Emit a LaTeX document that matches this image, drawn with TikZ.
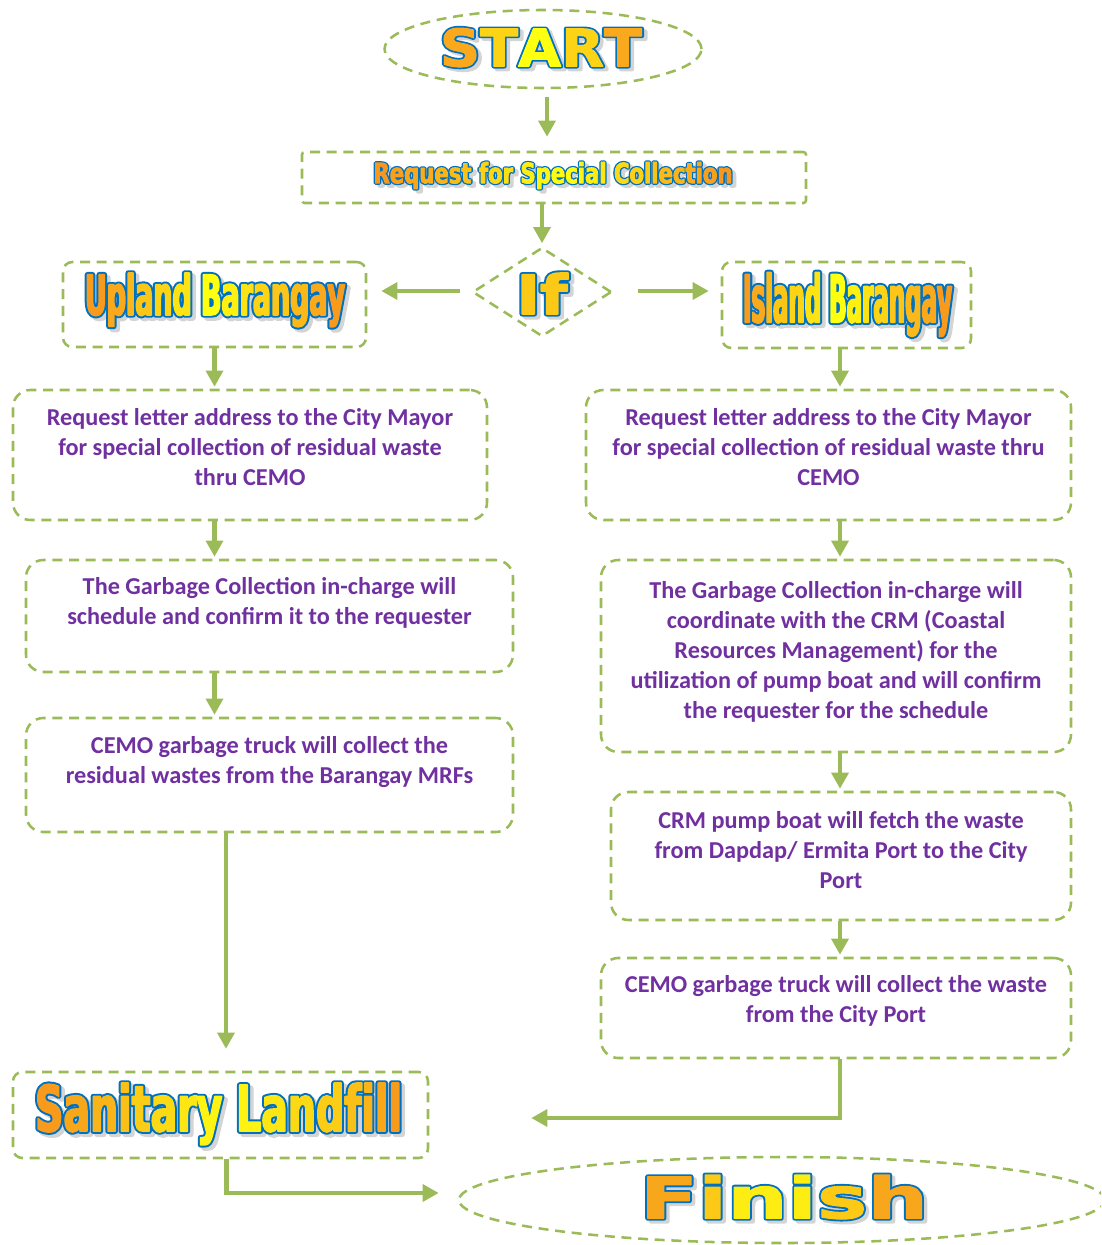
\documentclass[tikz,border=0pt]{standalone}
\usepackage{fontspec}
\setmainfont{Carlito}
\newfontfamily\artcond{DejaVu Sans Condensed}
\newfontfamily\artwide{DejaVu Sans}
\usetikzlibrary{shapes.geometric, arrows.meta, calc, fit}

\definecolor{flowgreen}{HTML}{9BBB59}
\definecolor{textpurple}{HTML}{7030A0}

% Title letters in three passes: a soft grey shadow, a wide blue stroke,
% then the letters filled (slightly emboldened) orange -> yellow -> orange.
\ExplSyntaxOn
\int_new:N \l__art_i_int
\int_new:N \l__art_n_int
\fp_new:N \l__art_t_fp
\tl_new:N \l__art_col_tl
% #1 pass: 0 shadow, 1 outline, 2 fill; #2 text
\cs_new_protected:Npn \__art_map:nn #1 #2
  {
    \int_set:Nn \l__art_n_int { \tl_count:n {#2} }
    \int_zero:N \l__art_i_int
    \tl_map_inline:nn {#2}
      {
        \int_incr:N \l__art_i_int
        \fp_set:Nn \l__art_t_fp { abs( (2*\l__art_i_int-1)/\l__art_n_int - 1 ) }
        \int_case:nn {#1}
          {
            {0} { \tl_set:Nn \l__art_col_tl { 0.83~0.83~0.83 } }
            {1} { \tl_set:Nn \l__art_col_tl { 0~0.439~0.753 } }
            {2}
              {
                \tl_set:Nx \l__art_col_tl
                  {
                    \fp_eval:n { round(1 + (0.969-1)*\l__art_t_fp, 3) }~
                    \fp_eval:n { round(1 + (0.580-1)*\l__art_t_fp, 3) }~
                    \fp_eval:n { round(0.063 + (0.114-0.063)*\l__art_t_fp, 3) }
                  }
              }
          }
        \special{pdf:literal~direct~\l__art_col_tl~rg~\l__art_col_tl~RG}
        ##1
      }
  }
% #1 fill stroke width, #2 outline stroke width, #3 text
\NewDocumentCommand \artletters { m m m }
  {
    \rlap
      {
        \raisebox{-2.4pt}
          {
            \kern 2.6pt
            \special{pdf:literal~direct~q~2~Tr~#2~w~1~j}
            \__art_map:nn {0} {#3}
            \special{pdf:literal~direct~Q}
          }
      }
    \rlap
      {
        \special{pdf:literal~direct~q~2~Tr~#2~w~1~j}
        \__art_map:nn {1} {#3}
        \special{pdf:literal~direct~Q}
      }
    \special{pdf:literal~direct~q~2~Tr~#1~w~1~j}
    \__art_map:nn {2} {#3}
    \special{pdf:literal~direct~Q}
  }
\ExplSyntaxOff

\newdimen\upx \upx=0.75pt
% #1 name, #2,#3 centre, #4,#5 width and total height (px), #6 font size,
% #7 font with its horizontal stretch, #8 {fill width}{outline width}, #9 text
\newcommand\wordart[9]{%
  \node[inner sep=0] (#1) at (#2,#3)
    {\resizebox*{#4\upx}{#5\upx}{\fontsize{#6}{#6}\selectfont#7\artletters#8{#9}}};%
}

\tikzset{
  box/.style={draw=flowgreen, line width=1.9pt, dash pattern=on 7.5pt off 5pt, inner sep=0},
  rbox/.style={box, rounded corners=13pt},
  sbox/.style={box, rounded corners=7pt},
  arr/.style={draw=flowgreen, line width=3.6pt, -{Triangle[length=12pt,width=12.5pt]}},
  txt/.style={font=\bfseries\fontsize{18.2}{22.5}\selectfont, text=textpurple, align=center, inner sep=0},
}

\begin{document}
\begin{tikzpicture}[x=0.75pt, y=-0.75pt]
\useasboundingbox (0,0) rectangle (1101,1245);
\clip (0,0) rectangle (1101,1245);

% outlines of the steps
\node[box, ellipse, minimum width=237.75pt, minimum height=58.5pt] (start) at (543,49) {};
\node[box, rounded corners=2pt, fit={(302,152)(806,203)}] (req) {};
\node[box, diamond, minimum width=104.25pt, minimum height=66.75pt] (if) at (542,292) {};
\node[sbox, fit={(63,262)(366,347)}] (up) {};
\node[sbox, fit={(722,262)(971,348)}] (isl) {};
\node[rbox, fit={(13,390)(487,520)}] (l1) {};
\node[rbox, fit={(26,560)(513,672)}] (l2) {};
\node[rbox, fit={(26,718)(513,832)}] (l3) {};
\node[rbox, fit={(586,390)(1071,520)}] (r1) {};
\node[rbox, fit={(601,560)(1071,752)}] (r2) {};
\node[rbox, fit={(611,792)(1071,920)}] (r3) {};
\node[rbox, fit={(601,958)(1071,1058)}] (r4) {};
\node[sbox, fit={(13,1072)(428,1158)}] (san) {};
\node[box, ellipse, minimum width=484.5pt, minimum height=64.5pt] (fin) at (782,1200) {};

% title lettering
\wordart{startt}{541}{49}{202}{42}{43}{\artwide\bfseries\addfontfeatures{FakeStretch=0.97}}{{0.8}{3.6}}{START}
\wordart{reqt}{553}{177}{359}{30}{22.5}{\artcond\bfseries\addfontfeatures{FakeStretch=0.74}}{{0.6}{2.6}}{Request~for~Special~Collection}
\wordart{ift}{542}{295}{51}{44}{43.4}{\artcond\bfseries\addfontfeatures{FakeStretch=1.2}}{{1.2}{4.2}}{If}
\wordart{upt}{215}{301.5}{260}{57}{42.75}{\artcond\bfseries\addfontfeatures{FakeStretch=0.52}}{{1.2}{4.2}}{Upland~Barangay}
\wordart{islt}{847.5}{306}{209}{67}{50}{\artcond\bfseries\addfontfeatures{FakeStretch=0.38}}{{1.2}{4.2}}{Island~Barangay}
\wordart{sant}{218.5}{1115.5}{367}{65}{48.75}{\artcond\bfseries\addfontfeatures{FakeStretch=0.67}}{{1.2}{4.2}}{Sanitary~Landfill}
\wordart{fint}{784}{1198.5}{288}{47}{46.4}{\artwide\bfseries\addfontfeatures{FakeStretch=1.42}}{{1.0}{4.0}}{Finish}

% step descriptions
\node[txt, anchor=north] (l1t) at ($(l1.north)+(0,19)$) {Request letter address to the City Mayor\\for special collection of residual waste\\thru CEMO};
\node[txt, anchor=north] (l2t) at ($(l2.north)+(0,18)$) {The Garbage Collection in-charge will\\schedule and confirm it to the requester};
\node[txt, anchor=north] (l3t) at ($(l3.north)+(0,19)$) {CEMO garbage truck will collect the\\residual wastes from the Barangay MRFs};
\node[txt, anchor=north] (r1t) at ($(r1.north)+(0,19)$) {Request letter address to the City Mayor\\for special collection of residual waste thru\\CEMO};
\node[txt, anchor=north] (r2t) at ($(r2.north)+(0,22)$) {The Garbage Collection in-charge will\\coordinate with the CRM (Coastal\\Resources Management) for the\\utilization of pump boat and will confirm\\the requester for the schedule};
\node[txt, anchor=north] (r3t) at ($(r3.north)+(0,20)$) {CRM pump boat will fetch the waste\\from Dapdap/ Ermita Port to the City\\Port};
\node[txt, anchor=north] (r4t) at ($(r4.north)+(0,18)$) {CEMO garbage truck will collect the waste\\from the City Port};

% connectors
\coordinate (rx) at (840,0);
\draw[arr] ($(start.south)+(4,8)$) -- ($(start.south |- req.north)+(4,-14)$);
\draw[arr] (req.south -| if.north) -- ($(if.north)+(0,-3)$);
\draw[arr] ($(if.west)+(-11,-1)$) -- ($(if.west -| up.east)+(14,-1)$);
\draw[arr] ($(if.east)+(25,-1)$) -- ($(if.east -| isl.west)+(-12,-1)$);
\draw[arr] (up.south) -- ($(up.south |- l1.north)+(0,-2)$);
\draw[arr] (l1.south -| up.south) -- ($(l2.north -| up.south)+(0,-2)$);
\draw[arr] (l2.south -| up.south) -- ($(l3.north -| up.south)+(0,-2)$);
\draw[arr] ($(l3.south)+(-43.5,0)$) -- ($(l3.south |- san.north)+(-43.5,-22)$);
\draw[arr] ($(san.south)+(6,0)$) |- ($(fin.west)+(-19,-7)$);
\draw[arr] (isl.south -| rx) -- ($(r1.north -| rx)+(0,-2)$);
\draw[arr] (r1.south -| rx) -- ($(r2.north -| rx)+(0,-2)$);
\draw[arr] (r2.south -| rx) -- ($(r3.north -| rx)+(0,-2)$);
\draw[arr] (r3.south -| rx) -- ($(r4.north -| rx)+(0,-2)$);
\draw[arr] (r4.south -| rx) |- ($(san.east)+(102,3)$);
\end{tikzpicture}
\end{document}
